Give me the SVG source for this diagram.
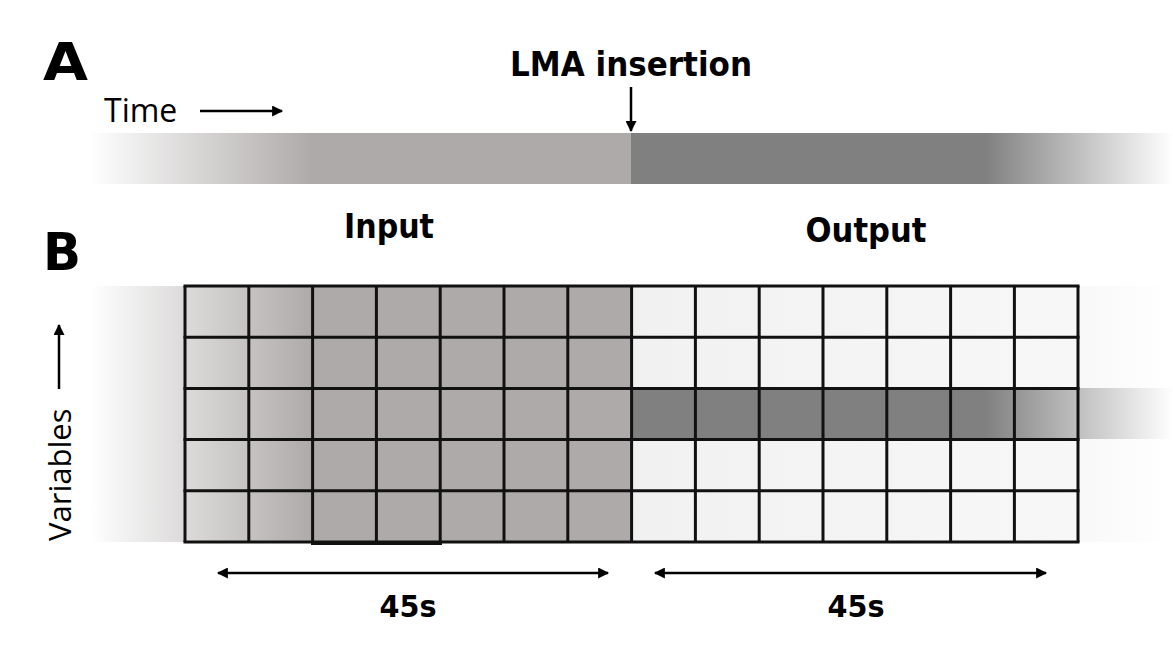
<svg xmlns="http://www.w3.org/2000/svg" width="1173" height="663" viewBox="0 0 1173 663">
  <style>
    .bold { font-family: "DejaVu Sans", "Liberation Sans", sans-serif; font-weight: 700; fill: #000; }
    .reg { font-family: "Open Sans", "Noto Sans", "Liberation Sans", sans-serif; font-weight: 400; fill: #000; }
    .grid line { stroke: #111; stroke-width: 3; }
    .conn { stroke: #000; stroke-width: 2.5; fill: none; }
  </style>
  <defs>
    <linearGradient id="gLeft" gradientUnits="userSpaceOnUse" x1="90" y1="0" x2="312" y2="0">
      <stop offset="0" stop-color="#ffffff"/>
      <stop offset="1" stop-color="#aeaaa9"/>
    </linearGradient>
    <linearGradient id="gRight" gradientUnits="userSpaceOnUse" x1="985" y1="0" x2="1173" y2="0">
      <stop offset="0" stop-color="#808080"/>
      <stop offset="0.25" stop-color="#a0a0a0"/>
      <stop offset="1" stop-color="#ffffff"/>
    </linearGradient>
    <linearGradient id="gOut" gradientUnits="userSpaceOnUse" x1="632" y1="0" x2="1173" y2="0">
      <stop offset="0" stop-color="#f1f1f1"/>
      <stop offset="0.8" stop-color="#f7f7f7"/>
      <stop offset="1" stop-color="#ffffff"/>
    </linearGradient>
    <marker id="ah" viewBox="0 0 10 10" refX="9" refY="5" markerWidth="5" markerHeight="4.4" orient="auto-start-reverse" markerUnits="strokeWidth">
      <path d="M0,0 L10,5 L0,10 Z" fill="#000"/>
    </marker>
  </defs>

  <!-- Panel A -->
  <g id="labelA"><text class="bold" x="43" y="80" font-size="52" textLength="45" lengthAdjust="spacingAndGlyphs">A</text></g>
  <g id="time-label">
    <text class="reg" x="104" y="122" font-size="32">Time</text>
  </g>
  <g id="lma-label">
    <text class="bold" x="631" y="76" font-size="34" text-anchor="middle" textLength="242" lengthAdjust="spacingAndGlyphs">LMA insertion</text>
  </g>
  <g id="timeline">
    <rect x="90" y="133" width="541" height="51" fill="url(#gLeft)"/>
    <rect x="631" y="133" width="542" height="51" fill="url(#gRight)"/>
  </g>

  <!-- Panel B -->
  <g id="labelB"><text class="bold" x="43" y="270" font-size="52" textLength="38" lengthAdjust="spacingAndGlyphs">B</text></g>
  <g id="input-label">
    <text class="bold" x="389" y="238" font-size="34" text-anchor="middle" textLength="90" lengthAdjust="spacingAndGlyphs">Input</text>
  </g>
  <g id="output-label">
    <text class="bold" x="866" y="242" font-size="34" text-anchor="middle" textLength="121" lengthAdjust="spacingAndGlyphs">Output</text>
  </g>
  <g id="variables-label">
    <text class="reg" font-size="31" transform="translate(71,541) rotate(-90)">Variables</text>
  </g>

  <g id="grid">
    <rect x="90" y="286" width="542" height="256" fill="url(#gLeft)"/>
    <rect x="632" y="286" width="541" height="256" fill="url(#gOut)"/>
    <rect x="632" y="388" width="541" height="51" fill="url(#gRight)"/>
    <g class="grid">
      <line x1="185" y1="286" x2="185" y2="542"/>
      <line x1="248.8" y1="286" x2="248.8" y2="542"/>
      <line x1="312.6" y1="286" x2="312.6" y2="543"/>
      <line x1="376.4" y1="286" x2="376.4" y2="543"/>
      <line x1="440.2" y1="286" x2="440.2" y2="543"/>
      <line x1="504" y1="286" x2="504" y2="542"/>
      <line x1="567.8" y1="286" x2="567.8" y2="542"/>
      <line x1="631.6" y1="286" x2="631.6" y2="542"/>
      <line x1="695.4" y1="286" x2="695.4" y2="542"/>
      <line x1="759.2" y1="286" x2="759.2" y2="542"/>
      <line x1="823" y1="286" x2="823" y2="542"/>
      <line x1="886.8" y1="286" x2="886.8" y2="542"/>
      <line x1="950.6" y1="286" x2="950.6" y2="542"/>
      <line x1="1014.4" y1="286" x2="1014.4" y2="542"/>
      <line x1="1078" y1="286" x2="1078" y2="542"/>
      <line x1="183.5" y1="286" x2="1079.5" y2="286"/>
      <line x1="183.5" y1="337.2" x2="1079.5" y2="337.2"/>
      <line x1="183.5" y1="388.4" x2="1079.5" y2="388.4"/>
      <line x1="183.5" y1="439.6" x2="1079.5" y2="439.6" stroke-width="3.5"/>
      <line x1="183.5" y1="490.8" x2="1079.5" y2="490.8"/>
      <line x1="183.5" y1="542" x2="1079.5" y2="542"/>
      <line x1="311" y1="543.5" x2="442" y2="543.5" stroke-width="2"/>
    </g>
  </g>

  <g id="duration-labels">
    <text class="bold" x="408" y="617" font-size="31" text-anchor="middle" textLength="57" lengthAdjust="spacingAndGlyphs">45s</text>
    <text class="bold" x="856" y="617" font-size="31" text-anchor="middle" textLength="57" lengthAdjust="spacingAndGlyphs">45s</text>
  </g>

  <g id="connectors">
    <line class="conn" x1="200" y1="111" x2="282" y2="111" marker-end="url(#ah)"/>
    <line class="conn" x1="631" y1="87" x2="631" y2="131" marker-end="url(#ah)"/>
    <line class="conn" x1="59" y1="389" x2="59" y2="325" marker-end="url(#ah)"/>
    <line class="conn" x1="218" y1="573" x2="608" y2="573" marker-start="url(#ah)" marker-end="url(#ah)"/>
    <line class="conn" x1="655" y1="573" x2="1046" y2="573" marker-start="url(#ah)" marker-end="url(#ah)"/>
  </g>
</svg>
